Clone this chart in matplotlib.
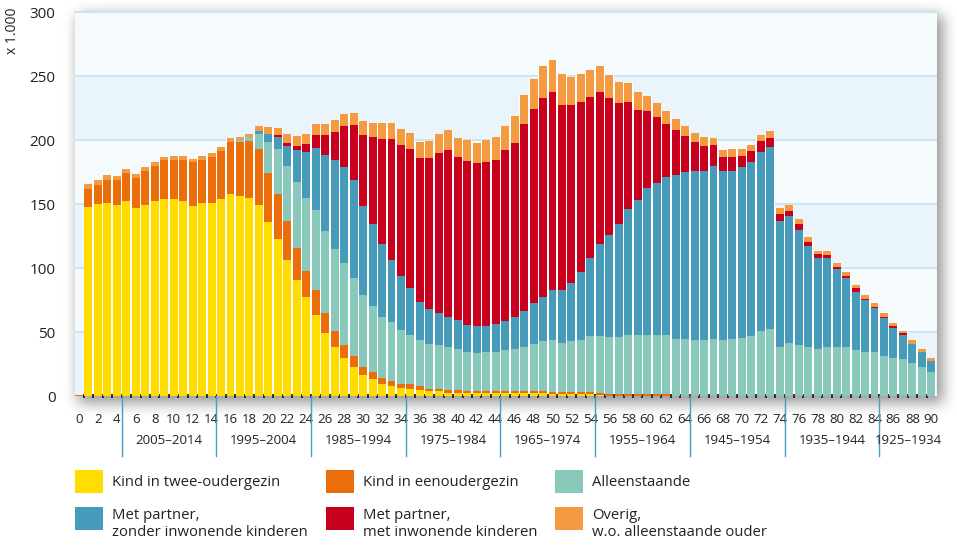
import math
import matplotlib
matplotlib.use("Agg")
import matplotlib.pyplot as plt
import numpy as np
from matplotlib.patches import Rectangle
from matplotlib.transforms import blended_transform_factory

plt.rcParams['font.family'] = ['Open Sans', 'DejaVu Sans']

# leeftijd 0..90, aantallen x 1.000
ages = list(range(91))

kind_twee = [0, 148, 150, 151, 149, 152, 147, 149.5, 152, 154, 154, 152.5, 148.5, 151, 151,
             154, 158, 156.5, 155, 149.5, 136, 123, 106.5, 91, 77, 63.5, 49.5, 38.5, 30, 23,
             16.5, 13, 9.5, 8, 6.5, 5.5, 5, 4, 4, 2.5, 2.5, 2, 2, 2, 2,
             2, 2, 2, 2, 2, 1.5, 1.5, 1.5, 1.5, 1.5, 1, 0.3, 0.3, 0.3, 0.3,
             0.3, 0.3, 0.3, 0, 0, 0, 0, 0, 0, 0, 0, 0, 0, 0, 0,
             0, 0, 0, 0, 0, 0, 0, 0, 0, 0, 0, 0, 0, 0, 0, 0]
kind_een = [1, 14, 15, 18, 20, 22.5, 23.5, 26.5, 28, 30, 30.5, 32, 34, 33.5, 36,
            37.5, 40.5, 42, 44.5, 43.5, 38.5, 35, 30, 25, 21, 19, 15.5, 12.5, 10, 8.5,
            6, 5.5, 4.5, 4, 3, 3.5, 2.5, 1.5, 1.5, 2.5, 2.5, 2, 2, 2, 2,
            2, 2, 2, 2, 2, 2, 2, 2, 2, 2, 1, 1, 1, 1, 1,
            1, 1, 1, 0, 0, 0, 0, 0, 0, 0, 0, 0, 0, 0, 0,
            0, 0, 0, 0, 0, 0, 0, 0, 0, 0, 0, 0, 0, 0, 0, 0]
alleen = [0, 0, 0, 0, 0, 0, 0, 0, 0, 0, 0, 0, 0, 0, 0,
          0, 0, 1.5, 2.5, 12, 24, 35, 43, 51.5, 57, 62.5, 64, 64, 64, 61,
          56.5, 51.5, 48, 45.5, 42, 39, 36.5, 35, 34.5, 33, 32, 30.5, 29.5, 30, 30,
          32, 33, 34.5, 37, 39, 40.5, 38, 39.5, 40.5, 43, 44.5, 45, 45, 46, 46,
          46, 46, 46, 44.8, 44.8, 44, 44, 44.8, 44, 44.8, 45.6, 47, 51, 52.5, 38.5,
          41.5, 40, 38, 37, 38.5, 38, 38, 36, 34.5, 34, 31.5, 30, 29, 26, 23, 19]
partner_zonder = [0, 0, 0, 0, 0, 0, 0, 0, 0, 0, 0, 0, 0, 0, 0,
                  0, 0, 0, 0, 2.3, 6.5, 9.5, 15.5, 24.5, 36, 49, 59.5, 69, 75, 76,
                  69.5, 64, 57, 49, 42, 36, 29.5, 27.5, 25, 24, 22, 21, 21, 21, 22.5,
                  22.5, 25, 28, 32, 34.5, 39, 41.5, 45.5, 52.5, 61, 72, 79.5, 88, 98.5, 105.5,
                  115, 119, 123.5, 128, 130.5, 132, 132, 135, 131.5, 131, 133.5, 136, 140, 142, 98.5,
                  99, 90, 79.5, 71, 69, 61.5, 54.5, 45.5, 40.5, 34.5, 29.5, 23.5, 19, 15, 11, 8]
partner_met = [0, 0, 0, 0, 0, 0, 0, 0, 0, 0, 0, 0, 0, 0, 0,
               0, 0, 0, 0, 0, 0, 1.5, 2.5, 3, 6, 10, 15.5, 22.5, 32, 43,
               55.5, 68, 82, 94.5, 102.5, 109, 112.5, 118, 125, 130.5, 127.5, 128, 127.5, 128, 127.5,
               133.5, 136, 146, 151.5, 155.5, 154.5, 144.5, 138.5, 133, 126, 119, 107, 94.5, 83.5, 71,
               60, 51.5, 42, 35, 27.5, 22.5, 19, 16.5, 11.5, 11, 8.5, 8.5, 8.5, 7, 5.5,
               4, 4, 2.5, 3, 2.5, 1.5, 1.5, 2.5, 1, 1, 1, 1, 1.5, 0, 0, 0]
overig = [0, 4, 4, 4, 3, 2.5, 3, 3, 3, 3, 3, 3, 2.5, 3, 3,
          3, 3, 2.5, 3, 4, 5.5, 5.5, 7, 8.5, 8, 8.5, 8.5, 9.5, 9.5, 9.5,
          11, 11.5, 12, 12, 12.5, 12.5, 12.5, 13.5, 15, 15, 15, 16.5, 15.5, 17, 18,
          19, 20.5, 22.5, 23.5, 25, 25, 24, 22.5, 22, 21, 20.5, 18, 16.5, 15, 14,
          12, 11, 10, 8.5, 8.5, 7, 7, 5.5, 5.5, 6, 5.5, 4.5, 4.5, 5.5, 4,
          4.5, 4.5, 4.5, 2.5, 3, 3, 3, 3, 3, 3, 3, 2.5, 1.5, 2.5, 2.5, 2.5]

series = [
    (kind_twee, "Kind in twee-oudergezin", "#FFDD00"),
    (kind_een, "Kind in eenoudergezin", "#EC6E0B"),
    (alleen, "Alleenstaande", "#88C9BC"),
    (partner_zonder, "Met partner,\nzonder inwonende kinderen", "#479BBA"),
    (partner_met, "Met partner,\nmet inwonende kinderen", "#C8001E"),
    (overig, "Overig,\nw.o. alleenstaande ouder", "#F49B42"),
]

periods = ["2005–2014", "1995–2004", "1985–1994", "1975–1984", "1965–1974",
           "1955–1964", "1945–1954", "1935–1944", "1925–1934"]
period_bounds = [4.5, 14.5, 24.5, 34.5, 44.5, 54.5, 64.5, 74.5, 84.5, 90.6]

W, H = 957, 547
fig = plt.figure(figsize=(W / 100, H / 100), dpi=100)
fig.patch.set_facecolor("white")

# plot area in pixels
L, R, T, B = 75, 937, 12, 396


def fx(px):
    return px / W


def fy(py):
    return 1 - py / H


def soft_box(n, a, b, s):
    erf = np.vectorize(math.erf)
    t = np.arange(n) + 0.5
    return 0.5 * (erf((t - a) / (s * 1.414)) - erf((t - b) / (s * 1.414)))


# blurred drop shadow behind the plot area
sx = soft_box(W, L + 3, R + 6, 7)
sy = soft_box(H, T + 3, B + 7, 7)
shadow = np.zeros((H, W, 4))
shadow[..., 3] = 0.42 * np.outer(sy, sx)
fig.figimage(shadow, 0, 0, origin="upper", zorder=0)

ax = fig.add_axes([fx(L), fy(B), (R - L) / W, (B - T) / H])
ax.set_facecolor("#f5fafd")
ax.set_zorder(1)
for lo in (0, 100, 200):
    ax.axhspan(lo, lo + 50, color="#eaf5fb", zorder=0, lw=0)
for yv in range(50, 301, 50):
    ax.axhline(yv, color="#cde5f1", lw=1.4, zorder=0.5)

x = np.array(ages)
totals = np.sum([np.array(s[0]) for s in series], axis=0)
ax.bar(x, totals, width=1.0, color="white", zorder=1, lw=0)

bottom = np.zeros(len(ages))
for vals, label, col in series:
    v = np.array(vals)
    ax.bar(x, v, bottom=bottom, width=0.84, color=col, lw=0, zorder=2)
    bottom += v

ax.set_xlim(-0.42, 90.6)
ax.set_ylim(0, 300)
ax.set_yticks(range(0, 301, 50))
ax.set_xticks(range(0, 91, 2))
ax.set_xticks(np.arange(0.5, 90, 1), minor=True)
ax.tick_params(axis="y", length=0, pad=14, labelsize=11, labelcolor="#222222")
ax.tick_params(axis="x", which="major", length=0, pad=12, labelsize=9.5, labelcolor="#222222")
ax.tick_params(axis="x", which="minor", direction="inout", length=2.5, width=1.3, color="#222222")
for s in ("left", "right", "bottom"):
    ax.spines[s].set_visible(False)
ax.spines["top"].set_color("#cde5f1")
ax.spines["top"].set_linewidth(1.4)

trans = blended_transform_factory(ax.transData, ax.transAxes)
for b in period_bounds[:-1]:
    ax.plot([b, b], [0, -0.155], color="#4a9cc0", lw=1.0, transform=trans, clip_on=False)
for i, lab in enumerate(periods):
    xc = (period_bounds[i] + period_bounds[i + 1]) / 2
    ax.text(xc, -0.117, lab, transform=trans, ha="center", va="center",
            fontsize=9.5, color="#222222")

fig.text(fx(13), fy(31), "x 1.000", rotation=90, ha="center", va="center",
         fontsize=10, color="#222222")

# legend, 2 rows x 3 columns
col_x = [75, 326, 555]
row_y = [470, 507]
for k, (vals, label, col) in enumerate(series):
    r, c = divmod(k, 3)
    px, py = col_x[c], row_y[r]
    fig.patches.append(Rectangle((fx(px), fy(py + 23)), 28 / W, 23 / H,
                                 transform=fig.transFigure, facecolor=col,
                                 edgecolor="none"))
    if r == 0:
        fig.text(fx(px + 37), fy(py + 12), label, ha="left", va="center",
                 fontsize=10.7, color="#222222")
    else:
        fig.text(fx(px + 37), fy(py + 1), label, ha="left", va="top",
                 fontsize=10.7, color="#222222", linespacing=1.2)

fig.savefig("out.png", dpi=100)
